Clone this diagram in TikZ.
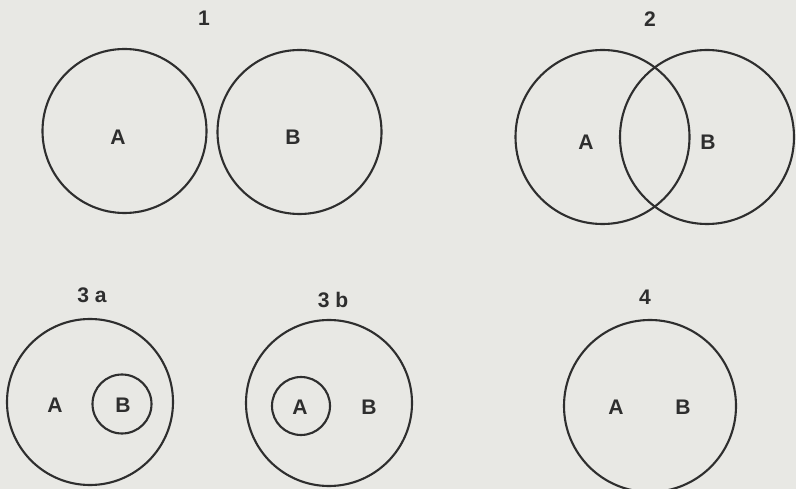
\documentclass[tikz,border=0pt]{standalone}
\usepackage{fontspec}
\setmainfont{Liberation Sans}
\usetikzlibrary{positioning}
\definecolor{paper}{HTML}{E8E8E4}
\definecolor{ink}{HTML}{2E2E2E}
\tikzset{
  set circle/.style={circle,draw=ink,line width=1.8pt,inner sep=0pt},
  set letter/.style={font=\fontsize{18}{21}\selectfont\bfseries,
    text=ink,inner sep=0pt},
  case number/.style={font=\fontsize{18}{21}\selectfont\bfseries,
    text=ink,inner sep=0pt}
}

\begin{document}
\begin{tikzpicture}[x=0.03cm,y=-0.03cm]
    \fill[paper] (0,0) rectangle (796,489);
    \useasboundingbox (0,0) rectangle (796,489);
    \clip (0,0) rectangle (796,489);
    % case 1
    \node[case number] (numone) at (204,18) {1};
    \node[set circle,minimum size=4.92cm] (oneA) at (124.5,131) {};
    \node[set circle,minimum size=4.92cm] (oneB) at (299.5,132) {};
    \node[set letter] (oneAlabel) at (118,137) {A};
    \node[set letter] (oneBlabel) at (293,137) {B};
    % case 2
    \node[case number] (numtwo) at (650,19) {2};
    \node[set circle,minimum size=5.22cm] (twoA) at (602.5,137) {};
    \node[set circle,minimum size=5.22cm] (twoB) at (707,137) {};
    \node[set letter] (twoAlabel) at (586,142) {A};
    \node[set letter] (twoBlabel) at (708,142) {B};
    % case 3a
    \node[case number] (numthreea) at (92,295) {3 a};
    \node[set circle,minimum size=4.98cm] (threeaA) at (90,402) {};
    \node[set circle,minimum size=1.77cm] (threeaB) at (122,404) {};
    \node[set letter] (threeaAlabel) at (55,405) {A};
    \node[set letter] (threeaBlabel) at (123,405) {B};
    % case 3b
    \node[case number] (numthreeb) at (333,300) {3 b};
    \node[set circle,minimum size=4.98cm] (threebB) at (329,403) {};
    \node[set circle,minimum size=1.74cm] (threebA) at (301,406) {};
    \node[set letter] (threebAlabel) at (300,407) {A};
    \node[set letter] (threebBlabel) at (369,407) {B};
    % case 4
    \node[case number] (numfour) at (645,297) {4};
    \node[set circle,minimum size=5.16cm] (fourAB) at (650,406) {};
    \node[set letter] (fourAlabel) at (616,407) {A};
    \node[set letter] (fourBlabel) at (683,407) {B};
  \end{tikzpicture}
\end{document}
